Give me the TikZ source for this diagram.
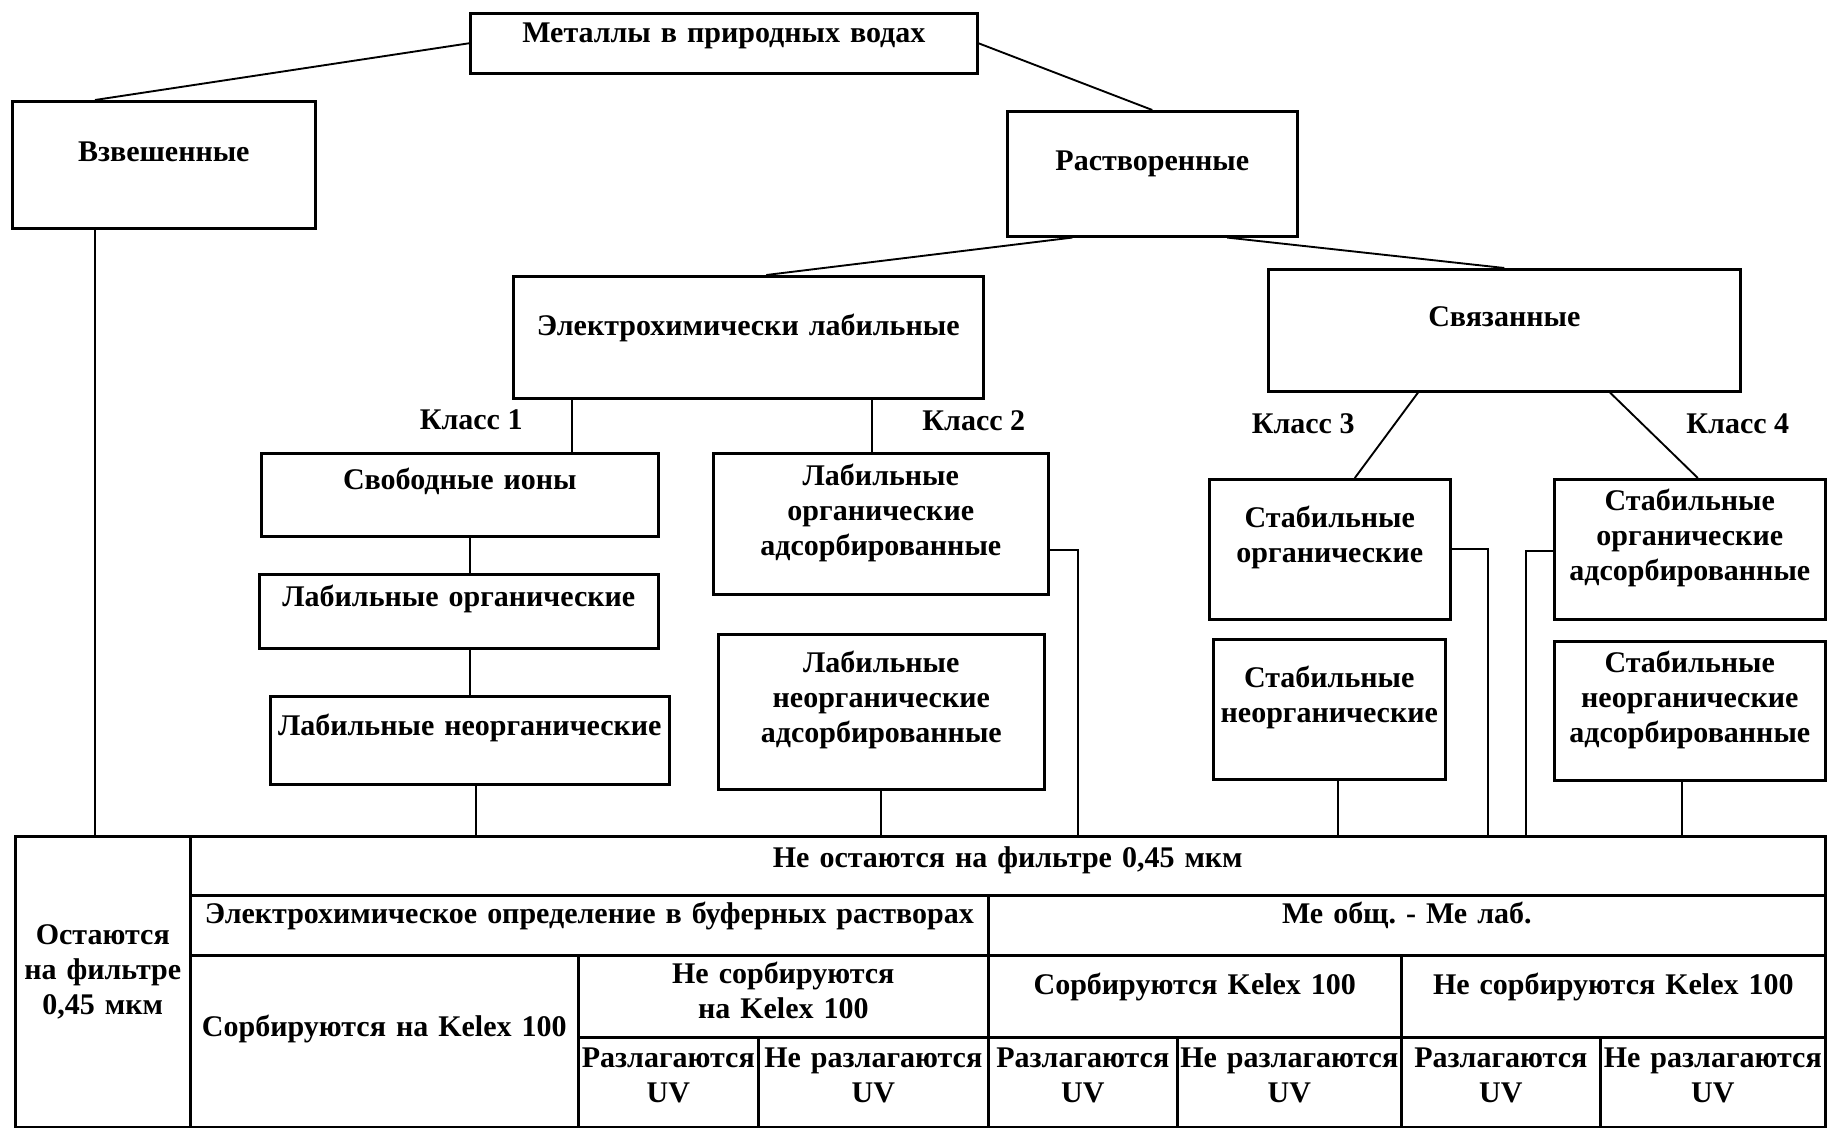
\documentclass[tikz,border=0pt]{standalone}
\usepackage{fontspec}
\setmainfont{Liberation Serif}
\usepackage{tikz}
\usetikzlibrary{calc}
\frenchspacing
\tikzset{
  cell/.style n args={3}{
    draw, line width=1.1pt, inner sep=0pt, anchor=north west,
    text width=#1*0.015cm, text height=#3*0.015cm,
    text depth={(#2-#3)*0.015cm}, align=center
  },
  cls/.style = {inner sep=0pt},
  link/.style = {draw, line width=0.8pt},
}

\begin{document}
\begin{tikzpicture}[x=0.015cm, y=-0.015cm,
                    font=\fontsize{12.8}{15}\selectfont\bfseries]

  \path[use as bounding box, fill=white] (0,0) rectangle (1827,1128);

  % tree
  \node[cell={507}{60}{29}] (met) at (469,12) {Металлы в природных водах};
  \node[cell={303}{127}{60}] (vzv) at (11,100) {Взвешенные};
  \node[cell={290}{125}{59}] (rast) at (1006,110) {Растворенные};
  \node[cell={470}{122}{59}] (elab) at (512,275) {Электрохимически лабильные};
  \node[cell={472}{122}{57}] (svz) at (1267,268) {Связанные};

  \node[cell={397}{83}{36}] (svob) at (260,452) {Свободные ионы};
  \node[cell={399}{74}{32}] (lorg) at (258,573) {Лабильные органические};
  \node[cell={399}{88}{39}] (lneorg) at (269,695) {Лабильные неорганические};
  \node[cell={335}{141}{32}] (lorgads) at (712,452)
    {Лабильные\\органические\\адсорбированные};
  \node[cell={326}{155}{38}] (lneorgads) at (717,633)
    {Лабильные\\неорганические\\адсорбированные};
  \node[cell={241}{140}{48}] (sorg) at (1208,478) {Стабильные\\органические};
  \node[cell={232}{140}{48}] (sneorg) at (1212,638) {Стабильные\\неорганические};
  \node[cell={271}{140}{31}] (sorgads) at (1553,478)
    {Стабильные\\органические\\адсорбированные};
  \node[cell={271}{139}{31}] (sneorgads) at (1553,640)
    {Стабильные\\неорганические\\адсорбированные};

  \node[cls, anchor=base east] (k1) at (523,429) {Класс 1};
  \node[cls, anchor=base west] (k2) at (922,430) {Класс 2};
  \node[cls, anchor=base east] (k3) at (1355,433) {Класс 3};
  \node[cls, anchor=base west] (k4) at (1686,433) {Класс 4};

  % table
  \node[cell={175}{291}{108}] (ost) at (14,835) {Остаются\\на фильтре\\0,45 мкм};
  \node[cell={1635}{59}{31}] (neost) at (189,835) {Не остаются на фильтре 0,45 мкм};
  \node[cell={798}{60}{28}] (echem) at (189,894)
    {Электрохимическое определение в буферных растворах};
  \node[cell={837}{60}{28}] (meob) at (987,894) {Ме общ. - Ме лаб.};
  \node[cell={388}{172}{81}] (sorbA) at (189,954) {Сорбируются на Kelex 100};
  \node[cell={410}{82}{28}] (nesorbA) at (577,954) {Не сорбируются\\на Kelex 100};
  \node[cell={413}{82}{39}] (sorbB) at (987,954) {Сорбируются Kelex 100};
  \node[cell={424}{82}{39}] (nesorbB) at (1400,954) {Не сорбируются Kelex 100};
  \node[cell={180}{90}{30}] (razlA) at (577,1036) {Разлагаются\\UV};
  \node[cell={230}{90}{30}] (nerazlA) at (757,1036) {Не разлагаются\\UV};
  \node[cell={189}{90}{30}] (razlB) at (987,1036) {Разлагаются\\UV};
  \node[cell={224}{90}{30}] (nerazlB) at (1176,1036) {Не разлагаются\\UV};
  \node[cell={199}{90}{30}] (razlC) at (1400,1036) {Разлагаются\\UV};
  \node[cell={225}{90}{30}] (nerazlC) at (1599,1036) {Не разлагаются\\UV};

  % bend points of the side connectors
  \coordinate (b2) at ([shift={(28,26)}]lorgads.east);
  \coordinate (b3) at ([shift={(36,0)}]sorg.east);
  \coordinate (b4) at ([shift={(-27,2)}]sorgads.west);

  % Connectors
  \draw[link] (met.west) -- ([shift={(84,0)}]vzv.north west);
  \draw[link] (met.east) -- (rast.north);
  \draw[link] ([shift={(-80,0)}]rast.south) -- ([shift={(18,0)}]elab.north);
  \draw[link] ([shift={(75,0)}]rast.south) -- (svz.north);
  \draw[link] ([shift={(60,0)}]elab.south west) coordinate (e1) -- (e1 |- svob.north);
  \draw[link] ([shift={(-9,0)}]lorgads.north) coordinate (e2) -- (e2 |- elab.south);
  \draw[link] ([shift={(151,0)}]svz.south west) -- ([shift={(25,0)}]sorg.north);
  \draw[link] ([shift={(343,0)}]svz.south west) -- ([shift={(8,0)}]sorgads.north);
  \draw[link] ([shift={(10,0)}]svob.south) coordinate (e3) -- (e3 |- lorg.north);
  \draw[link] (lneorg.north |- lorg.south) -- (lneorg.north);

  \draw[link] ([shift={(84,0)}]vzv.south west) coordinate (v1) -- (v1 |- ost.north);
  \draw[link] ([shift={(6,0)}]lneorg.south) coordinate (v2) -- (v2 |- neost.north);
  \draw[link] (lorgads.east |- b2) -- (b2) -- (b2 |- neost.north);
  \draw[link] (lneorgads.south) -- (lneorgads.south |- neost.north);
  \draw[link] (sorg.east |- b3) -- (b3) -- (b3 |- neost.north);
  \draw[link] ([shift={(9,0)}]sneorg.south) coordinate (v3) -- (v3 |- neost.north);
  \draw[link] (sorgads.west |- b4) -- (b4) -- (b4 |- neost.north);
  \draw[link] ([shift={(-8,0)}]sneorgads.south) coordinate (v4) -- (v4 |- neost.north);

\end{tikzpicture}
\end{document}
